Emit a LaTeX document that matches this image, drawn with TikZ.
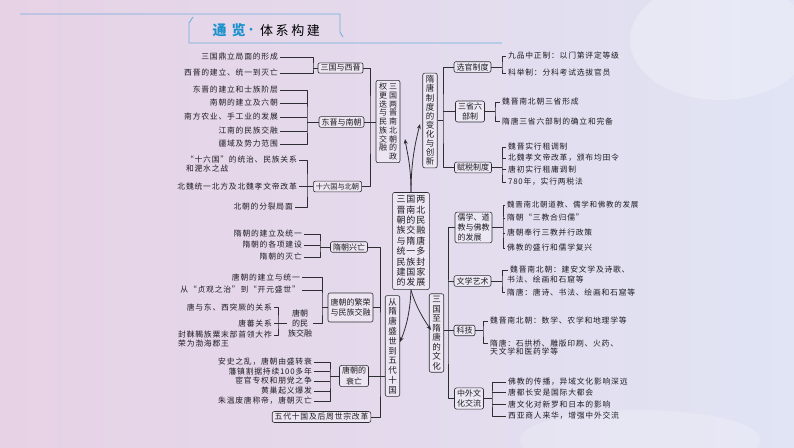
\documentclass[tikz,border=0pt]{standalone}
\usepackage{fontspec}
\setmainfont{Noto Sans CJK SC}
\newfontfamily\cjkl[LetterSpace=10]{Noto Sans CJK SC}
\newfontfamily\cjkt[LetterSpace=20]{Noto Sans CJK SC}
\usetikzlibrary{arrows.meta}
\definecolor{lc}{RGB}{45,45,50}
\definecolor{tc}{RGB}{30,30,35}
\definecolor{tblue}{RGB}{25,145,205}
\definecolor{tline}{RGB}{110,175,220}
\definecolor{bgl}{RGB}{231,209,229}
\definecolor{bgr}{RGB}{224,228,244}
\tikzset{
  ln/.style={draw=lc, line width=0.55pt},
  arr/.style={draw=lc, line width=0.8pt, -{Stealth[length=5pt,width=4pt]}},
  bx/.style={draw=lc, line width=0.6pt, rounded corners=2pt, fill=white, fill opacity=0.35, text opacity=1, text=tc, inner xsep=2.5pt, inner ysep=1.6pt, align=center, font=\fontsize{8}{10.5}\selectfont},
  vb/.style={bx, inner xsep=3pt, inner ysep=2.5pt},
  lf/.style={anchor=east, inner xsep=2pt, inner ysep=0.5pt, text=tc, font=\cjkl\fontsize{7.8}{9}\selectfont},
  rf/.style={lf, anchor=west},
  nf/.style={inner sep=0.5pt, text=tc, align=center, font=\fontsize{8}{10}\selectfont}
}
\begin{document}
\begin{tikzpicture}[x=1pt,y=-1pt,line join=round]
\useasboundingbox (0,0) rectangle (794,447);
\shade[left color=bgl, right color=bgr] (0,0) rectangle (794,447);
\fill[white, opacity=0.25] (720,40) ellipse (90 and 60);
\fill[white, opacity=0.2] (640,440) ellipse (120 and 30);

% title
\draw[tline, line width=0.9pt] (20,14) -- (340,14) -- (340,32) -- (343,37);
\draw[tline, line width=0.9pt] (193,17) -- (189,23) -- (189,43) -- (502,43);
\node[font=\fontsize{14}{14}\selectfont\bfseries, text=tblue] (tt1) at (229,30) {通\hspace{5pt}览};
\node[font=\fontsize{10}{10}\selectfont\bfseries, text=tblue] (tdot) at (251,31) {·};
\node[font=\cjkt\fontsize{13}{13}\selectfont, text=black] (tt2) at (290,31) {体系构建};

% central
\node[bx, inner xsep=4pt, inner ysep=3pt, font=\cjkl\fontsize{9}{10.4}\selectfont] (M) at (411,241)
 {三国两\\晋南北\\朝的民\\族交融\\与隋唐\\统一多\\民族封\\建国家\\的发展};

% upper-left big box
\node[bx, inner xsep=3pt, inner ysep=2.5pt, font=\fontsize{8}{8.75}\selectfont] (bA) at (388,121.5)
 {权\hspace{2pt}三\\更\hspace{2pt}国\\迭\hspace{2pt}两\\与\hspace{2pt}晋\\民\hspace{2pt}南\\族\hspace{2pt}北\\交\hspace{2pt}朝\\融\hspace{2pt}的\\\hphantom{融}\hspace{2pt}政};
\node[bx] (b31) at (340.5,68) {三国与西晋};
\node[bx] (b32) at (341.5,122) {东晋与南朝};
\node[bx, font=\fontsize{7.2}{9}\selectfont, inner ysep=2pt] (b33) at (337.5,186.5) {十六国与北朝};

% lower-left big box
\node[vb, font=\fontsize{8.5}{9.8}\selectfont] (bB) at (392.5,346) {从\\隋\\唐\\盛\\世\\到\\五\\代\\十\\国};
\node[bx] (c1) at (349,247) {隋朝兴亡};
\node[bx, minimum height=29pt] (c2) at (350.5,307.5) {唐朝的繁荣\\与民族交融};
\node[nf] (c2s) at (300,323) {唐朝\\的民\\族交融};
\node[bx] (c3) at (354,376) {唐朝的\\衰亡};
\node[bx, font=\cjkl\fontsize{7.8}{9}\selectfont, inner ysep=1.8pt] (c4) at (321.5,417) {五代十国及后周世宗改革};

% upper-right big box
\node[vb, font=\fontsize{8.5}{9.1}\selectfont] (R1) at (430,120.5) {隋\\唐\\制\\度\\的\\变\\化\\与\\创\\新};
\node[bx] (d1) at (472.5,67) {选官制度};
\node[bx] (d2) at (470,111.5) {三省六\\部制};
\node[bx] (d3) at (473,167.5) {赋税制度};

% lower-right big box
\node[vb, font=\fontsize{8.5}{9.5}\selectfont] (R2) at (436.5,333) {三\\国\\至\\隋\\唐\\的\\文\\化};
\node[bx, align=left, font=\fontsize{8}{10}\selectfont] (e1) at (473.5,227.5) {儒学、道\\教与佛教\\的发展};
\node[bx] (e2) at (472.5,281) {文学艺术};
\node[bx] (e3) at (464.5,330.5) {科技};
\node[bx] (e4) at (469,398.5) {中外文\\化交流};

% arrows
\coordinate (ta1) at (405,139);
\coordinate (ta2) at (420,124);
\coordinate (ta3) at (400,342);
\coordinate (ta4) at (431,330);
\draw[arr] (M.north) .. controls (411,165) and (407,152) .. (ta1);
\draw[arr] (M.north) .. controls (411,160) and (416,140) .. (ta2);
\draw[arr] (M.south) .. controls (410,315) and (405,330) .. (ta3);
\draw[arr] (M.south) .. controls (415,305) and (424,320) .. (ta4);

% spines of big groups
\coordinate (sA) at (370,122);
\draw[ln] (b31.east) -| (sA) |- (b33.east);
\draw[ln] (b32.east) -- (b32.east -| bA.west);
\coordinate (sB) at (380,376);
\draw[ln] (c1.east) -| (sB) |- (c4.east);
\draw[ln] (c2.east) -- (c2.east -| sB);
\draw[ln] (c3.east) -- (c3.east -| bB.west);
\coordinate (sR1) at (443,120);
\draw[ln] (d1.west) -| (sR1) |- (d3.west);
\draw[ln] (sR1) -- (sR1 -| R1.east);
\draw[ln] (d2.west) -- (d2.west -| sR1);
\coordinate (sR2) at (448,330.5);
\draw[ln] (e1.west) -| (sR2) |- (e4.west);
\draw[ln] (e2.west) -- (e2.west -| sR2);
\draw[ln] (e3.west) -- (e3.west -| R2.east);

% ---- leaves: 三国与西晋
\coordinate (s31) at (313,68);
\node[lf] (a1) at (280,57) {三国鼎立局面的形成};
\node[lf] (a2) at (280,73) {西晋的建立、统一到灭亡};
\draw[ln] (a1.east) -| (s31) |- (a2.east);
\draw[ln] (s31) -- (b31.west);

% ---- 东晋与南朝
\coordinate (s32) at (307,122);
\node[lf] (a3) at (280,90) {东晋的建立和士族阶层};
\node[lf] (a4) at (280,103) {南朝的建立及六朝};
\node[lf] (a5) at (280,117) {南方农业、手工业的发展};
\node[lf] (a6) at (280,131) {江南的民族交融};
\node[lf] (a7) at (280,144) {疆域及势力范围};
\draw[ln] (a3.east) -| (s32) |- (a7.east);
\draw[ln] (a4.east) -- (a4.east -| s32);
\draw[ln] (a5.east) -- (a5.east -| s32);
\draw[ln] (a6.east) -- (a6.east -| s32);
\draw[ln] (s32) -- (b32.west);

% ---- 十六国与北朝
\coordinate (s33) at (307,186.5);
\node[lf] (a8) at (299,160) {“十六国”的统治、民族关系};
\node[lf, anchor=north west] (a8b) at (a8.south west) {和淝水之战};
\node[lf] (a9) at (299,186.5) {北魏统一北方及北魏孝文帝改革};
\node[lf] (a10) at (295,207) {北朝的分裂局面};
\draw[ln] (a8.east) -| (s33) |- (a10.east);
\draw[ln] (a9.east) -- (b33.west);

% ---- 隋朝兴亡
\coordinate (sc1) at (320,247);
\node[lf] (f1) at (304,234) {隋朝的建立及统一};
\node[lf] (f2) at (304,245) {隋朝的各项建设};
\node[lf] (f3) at (304,257) {隋朝的灭亡};
\draw[ln] (f1.east) -| (sc1) |- (f3.east);
\draw[ln] (f2.east) -- (f2.east -| sc1);
\draw[ln] (sc1) -- (c1.west);

% ---- 唐朝的繁荣与民族交融
\coordinate (sc2) at (322,307.5);
\node[lf] (g1) at (302,277) {唐朝的建立与统一};
\node[lf] (g2) at (302,290) {从“贞观之治”到“开元盛世”};
\draw[ln] (g1.east) -| (sc2) |- (c2s.east);
\draw[ln] (g2.east) -- (g2.east -| sc2);
\draw[ln] (sc2) -- (c2.west);

% ---- 唐朝的民族交融
\coordinate (sc2s) at (278,323);
\node[lf] (h1) at (274,307) {唐与东、西突厥的关系};
\node[lf] (h2) at (274,323) {唐蕃关系};
\node[lf] (h3) at (274,335) {封靺鞨族粟末部首领大祚};
\node[lf, anchor=north west] (h3b) at (h3.south west) {荣为渤海郡王};
\draw[ln] (h1.east) -| (sc2s) |- (h3.east);
\draw[ln] (h2.east) -- (c2s.west);

% ---- 唐朝的衰亡
\coordinate (sc3) at (330,376);
\node[lf] (k1) at (314,362) {安史之乱，唐朝由盛转衰};
\node[lf] (k2) at (314,371.5) {藩镇割据持续100多年};
\node[lf] (k3) at (314,381) {宦官专权和朋党之争};
\node[lf] (k4) at (314,391) {黄巢起义爆发};
\node[lf] (k5) at (314,401) {朱温废唐称帝，唐朝灭亡};
\draw[ln] (k1.east) -| (sc3) |- (k5.east);
\draw[ln] (k2.east) -- (k2.east -| sc3);
\draw[ln] (k3.east) -- (k3.east -| sc3);
\draw[ln] (k4.east) -- (k4.east -| sc3);
\draw[ln] (sc3) -- (c3.west);

% ---- 选官制度
\coordinate (sd1) at (502,67);
\node[rf] (m1) at (506,56) {九品中正制：以门第评定等级};
\node[rf] (m2) at (506,73) {科举制：分科考试选拔官员};
\draw[ln] (m1.west) -| (sd1) |- (m2.west);
\draw[ln] (sd1) -- (d1.east);

% ---- 三省六部制
\coordinate (sd2) at (495,111.5);
\node[rf] (m3) at (500,102) {魏晋南北朝三省形成};
\node[rf] (m4) at (500,121) {隋唐三省六部制的确立和完备};
\draw[ln] (m3.west) -| (sd2) |- (m4.west);
\draw[ln] (sd2) -- (d2.east);

% ---- 赋税制度
\coordinate (sd3) at (502,167.5);
\node[rf] (m5) at (506,147) {魏晋实行租调制};
\node[rf] (m6) at (506,158) {北魏孝文帝改革，颁布均田令};
\node[rf] (m7) at (506,169.5) {唐初实行租庸调制};
\node[rf] (m8) at (506,182) {780年，实行两税法};
\draw[ln] (m5.west) -| (sd3) |- (m8.west);
\draw[ln] (m6.west) -- (m6.west -| sd3);
\draw[ln] (m7.west) -- (m7.west -| sd3);
\draw[ln] (sd3) -- (d3.east);

% ---- 儒学、道教与佛教的发展
\coordinate (se1) at (503,227.5);
\node[rf, font=\cjkl\fontsize{7.5}{9}\selectfont] (n1) at (505,205) {魏晋南北朝道教、儒学和佛教的发展};
\node[rf] (n2) at (505,218) {隋朝“三教合归儒”};
\node[rf] (n3) at (505,233) {唐朝奉行三教并行政策};
\node[rf] (n4) at (505,248) {佛教的盛行和儒学复兴};
\draw[ln] (n1.west) -| (se1) |- (n4.west);
\draw[ln] (n2.west) -- (n2.west -| se1);
\draw[ln] (n3.west) -- (n3.west -| se1);
\draw[ln] (se1) -- (e1.east);

% ---- 文学艺术
\coordinate (se2) at (502,281);
\node[rf] (p1) at (508,270) {魏晋南北朝：建安文学及诗歌、};
\node[rf] (p1b) at (505,279.5) {书法、绘画和石窟等};
\node[rf] (p2) at (505,292) {隋唐：唐诗、书法、绘画和石窟等};
\draw[ln] (p1.west) -| (se2) |- (p2.west);
\draw[ln] (se2) -- (e2.east);

% ---- 科技
\coordinate (se3) at (483,330.5);
\node[rf] (q1) at (488,321) {魏晋南北朝：数学、农学和地理学等};
\node[rf] (q2) at (488,343) {隋唐：石拱桥、雕版印刷、火药、};
\node[rf, anchor=north west] (q2b) at (q2.south west) {天文学和医药学等};
\draw[ln] (q1.west) -| (se3) |- (q2.west);
\draw[ln] (se3) -- (e3.east);

% ---- 中外文化交流
\coordinate (se4) at (492,398.5);
\node[rf] (r1) at (506,382) {佛教的传播，异域文化影响深远};
\node[rf] (r2) at (506,392) {唐都长安是国际大都会};
\node[rf] (r3) at (506,404) {唐文化对新罗和日本的影响};
\node[rf] (r4) at (506,416) {西亚商人来华，增强中外交流};
\draw[ln] (r1.west) -| (se4) |- (r4.west);
\draw[ln] (r2.west) -- (r2.west -| se4);
\draw[ln] (r3.west) -- (r3.west -| se4);
\draw[ln] (se4) -- (e4.east);
\end{tikzpicture}
\end{document}
